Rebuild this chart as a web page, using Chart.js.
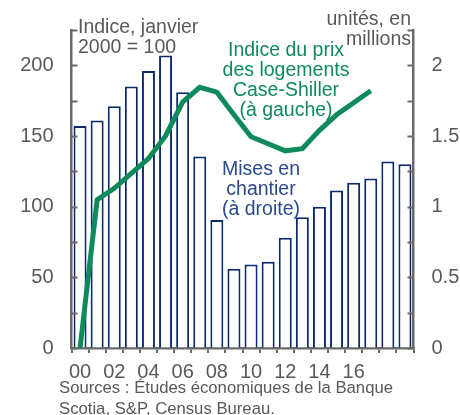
<!DOCTYPE html>
<html>
<head>
<meta charset="utf-8">
<script src="https://cdn.jsdelivr.net/npm/chart.js@4.4.1/dist/chart.umd.min.js"></script>
<style>
  html, body { margin: 0; padding: 0; background: #ffffff; }
  #wrap { position: relative; width: 460px; height: 415px; }
</style>
</head>
<body>
<div id="wrap"><canvas id="c" width="460" height="415"></canvas></div>
<script>
// ---- Data ----
const years = ['2000','2001','2002','2003','2004','2005','2006','2007','2008','2009',
               '2010','2011','2012','2013','2014','2015','2016','2017','2018','2019'];
const tickLabels = ['00','','02','','04','','06','','08','','10','','12','','14','','16','','',''];
// Mises en chantier, unités en millions (axe de droite)
const housingStarts = [1.57,1.61,1.71,1.85,1.96,2.07,1.81,1.355,0.905,0.56,
                       0.59,0.61,0.78,0.925,1.00,1.115,1.17,1.20,1.32,1.30];
// Indice Case-Shiller, janvier 2000 = 100 (axe de gauche)
const caseShiller = [0,105,113,123.5,134,150,174,184.5,181,165,
                     149.5,144.5,139.5,141,154,165,173.5,182,null,null];
const leftTickLabels = ['0','50','100','150','200'];
const rightTickLabels = ['0','0.5','1','1.5','2'];

const FONT = "'Liberation Sans', Arial, sans-serif";
const GREY = '#595959';
const AXIS = '#6a6a6a';
const GREEN = '#0f8a5c';
const NAVY = '#0c2b6e';
const BLUE_TXT = '#2a4a8c';

const innerTicks = {
  id: 'innerTicks',
  afterDraw(chart) {
    const ctx = chart.ctx;
    const a = chart.chartArea;
    ctx.save();
    ctx.strokeStyle = AXIS;
    ctx.lineWidth = 2;
    ['y', 'y1'].forEach(id => {
      const s = chart.scales[id];
      s.ticks.forEach(t => {
        const py = Math.round(s.getPixelForValue(t.value)) + 0.5;
        ctx.beginPath();
        if (id === 'y') { ctx.moveTo(a.left, py); ctx.lineTo(a.left + 6, py); }
        else { ctx.moveTo(a.right, py); ctx.lineTo(a.right - 6, py); }
        ctx.stroke();
      });
    });
    ctx.restore();
  }
};

const texts = {
  id: 'texts',
  afterDraw(chart) {
    const ctx = chart.ctx;
    ctx.save();
    ctx.textBaseline = 'alphabetic';
    // axis titles
    ctx.fillStyle = GREY;
    ctx.font = '19.5px ' + FONT;
    ctx.textAlign = 'left';
    ctx.fillText('Indice, janvier', 78, 33);
    ctx.fillText('2000 = 100', 78, 53);
    ctx.textAlign = 'right';
    ctx.fillText('unités, en', 411, 25);
    ctx.fillText('millions', 411, 45);
    // series annotations
    ctx.textAlign = 'center';
    ctx.fillStyle = GREEN;
    ctx.fillText('Indice du prix', 286, 56);
    ctx.fillText('des logements', 286, 76);
    ctx.fillText('Case-Shiller', 286, 96);
    ctx.fillText('(à gauche)', 286, 116);
    ctx.fillStyle = BLUE_TXT;
    ctx.fillText('Mises en', 261, 175);
    ctx.fillText('chantier', 261, 195);
    ctx.fillText('(à droite)', 261, 215);
    // sources
    ctx.textAlign = 'left';
    ctx.fillStyle = GREY;
    ctx.font = '16.7px ' + FONT;
    ctx.fillText('Sources : Études économiques de la Banque', 59, 393);
    ctx.fillText('Scotia, S&P, Census Bureau.', 59, 414);
    ctx.restore();
  }
};

new Chart(document.getElementById('c'), {
  data: {
    labels: years,
    datasets: [
      {
        type: 'line',
        label: 'Indice du prix des logements Case-Shiller',
        data: caseShiller,
        yAxisID: 'y',
        borderColor: GREEN,
        borderWidth: 5,
        pointRadius: 0,
        tension: 0,
        fill: false,
        spanGaps: false,
        order: 0,
        borderJoinStyle: 'miter'
      },
      {
        type: 'bar',
        label: 'Mises en chantier',
        data: housingStarts,
        yAxisID: 'y1',
        backgroundColor: '#ffffff',
        borderColor: NAVY,
        borderWidth: 2,
        barPercentage: 0.76,
        categoryPercentage: 1.0,
        order: 1
      }
    ]
  },
  options: {
    responsive: false,
    animation: false,
    devicePixelRatio: 1,
    layout: { padding: { top: 27, left: 0, right: 0, bottom: 0 } },
    plugins: { legend: { display: false }, tooltip: { enabled: false } },
    scales: {
      x: {
        type: 'category',
        offset: true,
        grid: { display: true, offset: true, drawOnChartArea: false, drawTicks: true, tickLength: 5, color: AXIS, lineWidth: 2 },
        border: { display: true, color: AXIS, width: 2.5 },
        ticks: {
          autoSkip: false, maxRotation: 0, minRotation: 0, padding: 7,
          color: GREY, font: { family: FONT, size: 20 },
          callback: (v, i) => tickLabels[i]
        },
        afterFit: s => { s.height = 67; }
      },
      y: {
        position: 'left',
        min: 0, max: 225,
        ticks: {
          stepSize: 25, padding: 18, color: GREY, font: { family: FONT, size: 20 },
          callback: v => (v % 50 === 0 ? leftTickLabels[v / 50] : '')
        },
        grid: { display: true, drawOnChartArea: false, drawTicks: false },
        border: { display: true, color: AXIS, width: 2.5 },
        afterFit: s => { s.width = 71.5; }
      },
      y1: {
        position: 'right',
        min: 0, max: 2.25,
        ticks: {
          stepSize: 0.25, padding: 18, color: GREY, font: { family: FONT, size: 20 },
          callback: v => {
            const k = Math.round(v * 4);
            return (k % 2 === 0) ? rightTickLabels[k / 2] : '';
          }
        },
        grid: { display: true, drawOnChartArea: false, drawTicks: false },
        border: { display: true, color: AXIS, width: 2.5 },
        afterFit: s => { s.width = 46.5; }
      }
    }
  },
  plugins: [innerTicks, texts]
});
</script>
</body>
</html>
